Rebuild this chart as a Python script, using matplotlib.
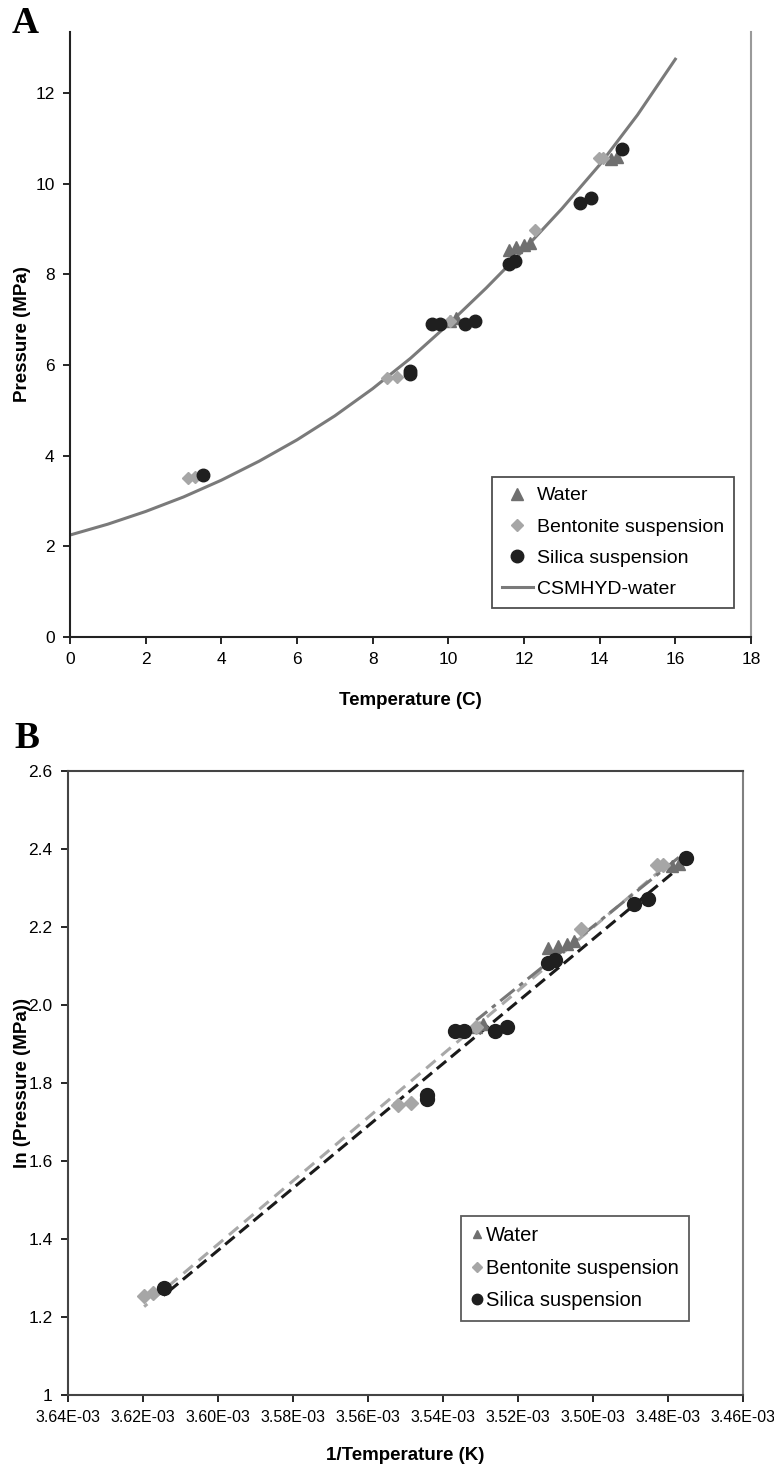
import matplotlib
matplotlib.use('Agg')
import matplotlib.pyplot as plt
import numpy as np

plt.rcParams['font.family'] = ['Liberation Sans', 'DejaVu Sans']
plt.rcParams['axes.unicode_minus'] = False

# ---- Panel A: pressure vs temperature (C)
water_T = [10.05, 10.2, 11.6, 11.8, 12.0, 12.15, 14.3, 14.45]
water_P = [6.98, 7.03, 8.55, 8.6, 8.65, 8.7, 10.55, 10.6]
bent_T = [3.12, 3.30, 8.37, 8.65, 10.05, 12.3, 13.97, 14.1]
bent_P = [3.50, 3.53, 5.72, 5.74, 6.98, 8.98, 10.57, 10.58]
silica_T = [3.51, 9.0, 9.0, 9.58, 9.79, 10.45, 10.7, 11.6, 11.75, 13.47, 13.76, 14.6]
silica_P = [3.58, 5.80, 5.86, 6.91, 6.91, 6.91, 6.98, 8.22, 8.30, 9.58, 9.69, 10.77]
csmhyd_T = [0, 1, 2, 3, 4, 5, 6, 7, 8, 9, 10, 11, 12, 13, 14, 15, 16]
csmhyd_P = [2.25, 2.49, 2.77, 3.09, 3.46, 3.88, 4.35, 4.88, 5.48, 6.15, 6.90, 7.70, 8.55,
            9.45, 10.42, 11.52, 12.75]

# ---- Panel B: ln(P) vs 1/T (K)
water_invT = [3.5311e-3, 3.5292e-3, 3.5119e-3, 3.5094e-3, 3.5069e-3, 3.5051e-3, 3.4789e-3, 3.4771e-3]
water_lnP = [1.9430, 1.9502, 2.1459, 2.1518, 2.1576, 2.1633, 2.3561, 2.3609]
bent_invT = [3.6197e-3, 3.6173e-3, 3.5521e-3, 3.5486e-3, 3.5311e-3, 3.5032e-3, 3.4829e-3, 3.4813e-3]
bent_lnP = [1.2528, 1.2613, 1.7440, 1.7475, 1.9430, 2.1950, 2.3580, 2.3590]
silica_invT = [3.6145e-3, 3.5442e-3, 3.5442e-3, 3.5369e-3, 3.5343e-3, 3.5261e-3, 3.5230e-3,
               3.5119e-3, 3.5100e-3, 3.4890e-3, 3.4854e-3, 3.4752e-3]
silica_lnP = [1.2754, 1.7579, 1.7681, 1.9330, 1.9330, 1.9330, 1.9430,
              2.1066, 2.1163, 2.2597, 2.2711, 2.3768]

xticks_B = [3.64e-3, 3.62e-3, 3.60e-3, 3.58e-3, 3.56e-3, 3.54e-3, 3.52e-3, 3.50e-3, 3.48e-3, 3.46e-3]

C_WATER = '#6f6f6f'
C_BENT = '#a6a6a6'
C_SIL = '#1f1f1f'

fig = plt.figure(figsize=(7.74, 14.67), dpi=100)
W, H = 774.0, 1467.0

# ======== Panel A
axA = fig.add_axes([70 / W, 1 - 637 / H, 681 / W, 605 / H])
axA.plot(csmhyd_T, csmhyd_P, color='#7a7a7a', lw=2.2, label='CSMHYD-water', zorder=2)
axA.plot(water_T, water_P, '^', color=C_WATER, ms=8, ls='none', label='Water', zorder=3)
axA.plot(bent_T, bent_P, 'D', color=C_BENT, ms=6.5, ls='none', label='Bentonite suspension', zorder=3)
axA.plot(silica_T, silica_P, 'o', color=C_SIL, ms=9, ls='none', label='Silica suspension', zorder=4)
axA.set_xlim(0, 18)
axA.set_ylim(0, 13.35)
axA.set_xticks(range(0, 19, 2))
axA.set_yticks(range(0, 13, 2))
axA.spines['top'].set_visible(False)
axA.spines['right'].set_color('#9a9a9a')
axA.spines['right'].set_linewidth(1.5)
for s in ['left', 'bottom']:
    axA.spines[s].set_color('#222222')
    axA.spines[s].set_linewidth(1.5)
axA.tick_params(direction='out', length=5, width=1.2, labelsize=12.5, pad=6)
axA.set_xlabel('Temperature (C)', fontsize=13.5, fontweight='bold', labelpad=18)
axA.set_ylabel('Pressure (MPa)', fontsize=13.5, fontweight='bold')
axA.yaxis.set_label_coords(-0.057, 0.5)
hA, lA = axA.get_legend_handles_labels()
order = [1, 2, 3, 0]
legA = axA.legend([hA[i] for i in order], [lA[i] for i in order],
                  loc='upper left', bbox_to_anchor=((492 - 70) / 681, (637 - 477) / 605),
                  fontsize=14, frameon=True, fancybox=False, borderpad=0.5,
                  labelspacing=0.7, handlelength=1.6, handletextpad=0.2, borderaxespad=0)
legA.get_frame().set_edgecolor('#222222')
legA.get_frame().set_linewidth(1.3)

fig.text(12 / W, 1 - 6 / H, 'A', fontsize=27, fontweight='bold', family='Liberation Serif',
         ha='left', va='top')

# ======== Panel B
axB = fig.add_axes([68 / W, 1 - 1395 / H, 675 / W, 624 / H])
axB.plot(water_invT, water_lnP, '^', color=C_WATER, ms=8.5, ls='none', label='Water', zorder=3)
axB.plot(bent_invT, bent_lnP, 'D', color=C_BENT, ms=7, ls='none', label='Bentonite suspension', zorder=3)
axB.plot(silica_invT, silica_lnP, 'o', color=C_SIL, ms=10, ls='none', label='Silica suspension', zorder=4)

# linear trend lines over each series' range
for xs, ys, col, dash in [(bent_invT, bent_lnP, '#a8a8a8', (4, 2.5)),
                          (water_invT, water_lnP, '#777777', (6, 2, 1.5, 2)),
                          (silica_invT, silica_lnP, '#1a1a1a', (4, 2))]:
    k, b = np.polyfit(xs, ys, 1)
    xx = np.array([min(xs), max(xs)])
    axB.plot(xx, k * xx + b, color=col, lw=2.2, dashes=dash, zorder=2)

axB.set_xlim(3.64e-3, 3.46e-3)
axB.set_ylim(1, 2.6)
axB.set_xticks(xticks_B)
axB.set_xticklabels(['%.2E' % v for v in xticks_B])
axB.set_yticks([1, 1.2, 1.4, 1.6, 1.8, 2.0, 2.2, 2.4, 2.6])
axB.set_yticklabels(['1', '1.2', '1.4', '1.6', '1.8', '2.0', '2.2', '2.4', '2.6'])
for s in ['left', 'bottom', 'top']:
    axB.spines[s].set_color('#444444')
    axB.spines[s].set_linewidth(1.5)
axB.spines['right'].set_color('#808080')
axB.spines['right'].set_linewidth(1.5)
axB.tick_params(direction='out', length=5, width=1.2, labelsize=12.5, pad=6)
axB.tick_params(axis='x', labelsize=11.5)
axB.set_xlabel('1/Temperature (K)', fontsize=13.5, fontweight='bold', labelpad=16)
axB.set_ylabel('ln (Pressure (MPa))', fontsize=13.5, fontweight='bold')
axB.yaxis.set_label_coords(-0.055, 0.5)
legB = axB.legend(loc='upper left', bbox_to_anchor=((461 - 68) / 675, (1395 - 1216) / 624),
                  fontsize=14.5, frameon=True, fancybox=False, borderpad=0.5,
                  labelspacing=0.68, handlelength=0.6, handletextpad=0.15, borderaxespad=0,
                  markerscale=0.75)
legB.get_frame().set_edgecolor('#333333')
legB.get_frame().set_linewidth(1.3)

fig.text(14 / W, 1 - 721 / H, 'B', fontsize=27, fontweight='bold', family='Liberation Serif',
         ha='left', va='top')

fig.savefig('out.png', dpi=100, facecolor='white')
